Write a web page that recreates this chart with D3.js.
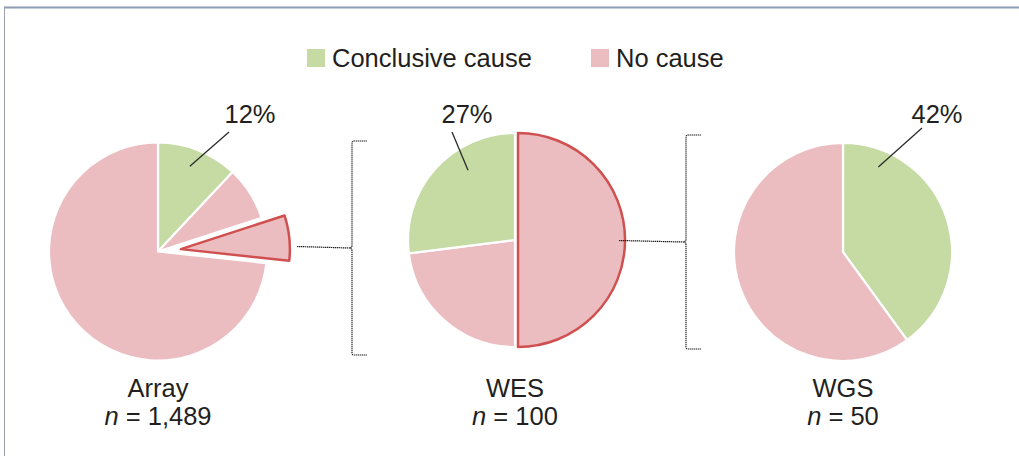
<!DOCTYPE html>
<html>
<head>
<meta charset="utf-8">
<script src="https://d3js.org/d3.v7.min.js"></script>
<title>diagnostic yield pies</title>
<style>
html, body {
	margin: 0;
	padding: 0;
	background: white;
}
svg {
	display: block;
	font-family: 'Liberation Sans', Arial, sans-serif;
}
.lbl {
	font-size: 25.5px;
	fill: #231f20;
}
</style>
</head>
<body>
<svg></svg>
<script>
// data
var groups = ["Array", "WES", "WGS"];
var counts = ["1,489", "100", "50"];
var pctLabels = ["12%", "27%", "42%"];
var legendKeys = ["Conclusive cause", "No cause"];

// slice shares (%) in drawing order, clockwise from 12 o'clock
var arrayValues = [12, 8, 6.7, 73.3];
var arrayKinds = ["cause", "none", "picked", "none"];
var wesValues = [50, 23, 27];
var wesKinds = ["picked", "none", "cause"];
var wgsValues = [40, 60];
var wgsKinds = ["cause", "none"];

var width = 1019;
var height = 456;

var color = d3.scaleOrdinal()
	.domain(["cause", "none", "picked"])
	.range(["#c6dba3", "#ebbdc1", "#ebbdc1"]);
var red = "#d0504f";

var svg = d3.select("svg")
	.attr("width", width)
	.attr("height", height);

// frame
svg.append("line")
	.attr("x1", 4).attr("x2", width).attr("y1", 7.5).attr("y2", 7.5)
	.style("stroke", "#8c9cb3").style("stroke-width", 2);
svg.append("line")
	.attr("x1", 4.5).attr("x2", 4.5).attr("y1", 7).attr("y2", height)
	.style("stroke", "#9aa3ad").style("stroke-width", 1);

// legend
var legend = svg.append("g").attr("transform", "translate(307,49)");
var legendX = [0, 284];
legendKeys.forEach(function(k, i) {
	legend.append("rect")
		.attr("x", legendX[i]).attr("y", 0)
		.attr("width", 18).attr("height", 18)
		.style("fill", color(i == 0 ? "cause" : "none"));
	legend.append("text")
		.attr("class", "lbl")
		.attr("x", legendX[i] + 25).attr("y", 18)
		.text(k);
});

var pie = d3.pie().sort(null).value(function(d) { return d.v; });

function rad(deg) { return deg * Math.PI / 180; }
function pt(a, r) { return [Math.sin(rad(a)) * r, -Math.cos(rad(a)) * r]; }

// layout for each pie
var pies = [
	{values: arrayValues, kinds: arrayKinds, cx: 158, cy: 251.5, r: 109, pull: 23,
	 lead: {a: 20.5, r: 91, dx: 71, dy: -119.5}, lab: {dx: 92, dy: -128.5}},
	{values: wesValues, kinds: wesKinds, cx: 515, cy: 240, r: 107, pull: 3,
	 lead: {a: 326, r: 84, dx: -63, dy: -108}, lab: {dx: -48, dy: -117}},
	{values: wgsValues, kinds: wgsKinds, cx: 843, cy: 252, r: 109, pull: 0,
	 lead: {a: 22.6, r: 92, dx: 79, dy: -124}, lab: {dx: 94, dy: -129}}
];

pies.forEach(function(p, i) {
	var g = svg.append("g").attr("transform", "translate(" + p.cx + "," + p.cy + ")");
	var arc = d3.arc().innerRadius(0).outerRadius(p.r);
	var rows = p.values.map(function(v, j) { return {v: v, kind: p.kinds[j]}; });
	var arcs = pie(rows);

	g.selectAll("path")
		.data(arcs)
	.enter().append("path")
		.attr("d", arc)
		.attr("transform", function(d) {
			if (d.data.kind != "picked") return null;
			var m = (d.startAngle + d.endAngle) / 2;
			return "translate(" + Math.sin(m) * p.pull + "," + (-Math.cos(m) * p.pull) + ")";
		})
		.style("fill", function(d) { return color(d.data.kind); })
		.style("stroke", function(d) { return d.data.kind == "picked" ? red : "white"; })
		.style("stroke-width", function(d) { return d.data.kind == "picked" ? 2.5 : 2.2; })
		.style("stroke-linejoin", "round");

	// leader + percent
	var a = pt(p.lead.a, p.lead.r);
	g.append("line")
		.attr("x1", a[0]).attr("y1", a[1])
		.attr("x2", p.lead.dx).attr("y2", p.lead.dy)
		.style("stroke", "#2b2b2b").style("stroke-width", 1.3);
	g.append("text")
		.attr("class", "lbl")
		.attr("x", p.lab.dx).attr("y", p.lab.dy)
		.attr("text-anchor", "middle")
		.text(pctLabels[i]);

	// group name and n
	svg.append("text")
		.attr("class", "lbl")
		.attr("text-anchor", "middle")
		.attr("x", p.cx).attr("y", 397)
		.text(groups[i]);
	var n = svg.append("text")
		.attr("class", "lbl")
		.attr("text-anchor", "middle")
		.attr("x", p.cx).attr("y", 425);
	n.append("tspan").style("font-style", "italic").text("n");
	n.append("tspan").text(" = " + counts[i]);
});

// brackets linking a picked slice to the next pie
var brackets = [
	{x0: 297, x: 352, top: 141, bot: 355, mid: 248},
	{x0: 619, x: 686, top: 135, bot: 349, mid: 242}
];

brackets.forEach(function(b) {
	var path = d3.path();
	path.moveTo(b.x + 15, b.top);
	path.lineTo(b.x + 2, b.top);
	path.quadraticCurveTo(b.x, b.top, b.x, b.top + 2);
	path.lineTo(b.x, b.mid - 3);
	path.quadraticCurveTo(b.x, b.mid, b.x - 3, b.mid);
	path.quadraticCurveTo(b.x, b.mid, b.x, b.mid + 3);
	path.lineTo(b.x, b.bot - 2);
	path.quadraticCurveTo(b.x, b.bot, b.x + 2, b.bot);
	path.lineTo(b.x + 15, b.bot);
	svg.append("path")
		.attr("d", path.toString())
		.style("fill", "none")
		.style("stroke", "#1e1e1e")
		.style("stroke-width", 1.2)
		.style("stroke-dasharray", "1.4,0.6");
	svg.append("line")
		.attr("x1", b.x0).attr("x2", b.x - 3)
		.attr("y1", b.mid - 1.5).attr("y2", b.mid)
		.style("stroke", "#1e1e1e")
		.style("stroke-width", 1.2)
		.style("stroke-dasharray", "1.4,0.6");
});
</script>
</body>
</html>
